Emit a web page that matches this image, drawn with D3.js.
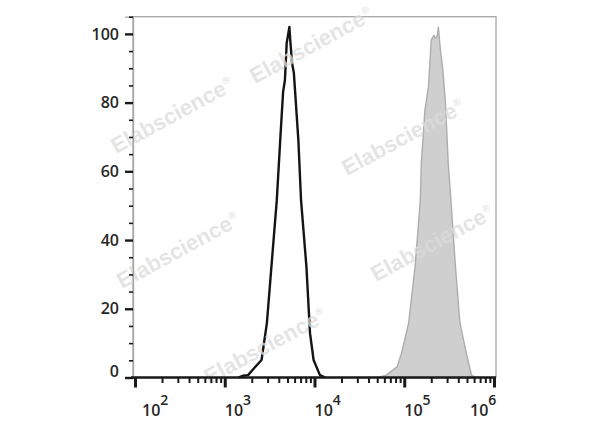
<!DOCTYPE html>
<html>
<head>
<meta charset="utf-8">
<script src="https://cdn.jsdelivr.net/npm/d3@7"></script>
<style>
  html, body { margin: 0; padding: 0; background: #fff; }
  svg { display: block; }
</style>
</head>
<body>
<svg id="chart" width="600" height="427"></svg>
<script>
// ---- data ----
// unstained / isotype control (black outline)
const controlIntensity = [1410, 1585, 1820, 2040, 2570, 2950, 3310, 3800, 4170, 4470, 4680, 4900, 5250, 5370, 5620, 5890, 6610, 7080, 8130, 8910, 9770, 11500, 13200];
const controlCount     = [0,    0.5,  0.7,  2.2,  5.1,  15.9, 32.2, 51.6, 70,   83.2, 86.5, 97.3, 102,  98.2, 91.5, 88.6, 69.1, 51.6, 32.2, 12.9, 5.1,  0.7,   0];
// stained sample (grey filled)
const stainedIntensity = [50100, 63100, 83200, 93300, 112000, 132000, 151000, 155000, 170000, 186000, 200000, 214000, 222000, 232000, 240000, 251000, 269000, 288000, 309000, 331000, 372000, 417000, 501000, 562000, 631000];
const stainedCount     = [0,     0.7,   3.1,   7.1,   15.9,   32.2,   51.6,   62.4,   77.8,   84.6,   98.2,   99.6,   98.7,   99.2,   102,    96.2,   89.5,   79.9,   62.4,   51.6,   32.2,   15.9,   6.1,    0.7,    0];
const yTicks = [0, 20, 40, 60, 80, 100];
const yMinorTicks = [5, 10, 15, 25, 30, 35, 45, 50, 55, 65, 70, 75, 85, 90, 95, 105];
const xDecades = [2, 3, 4, 5, 6];
const watermarkText = "Elabscience";

// ---- layout ----
const svg = d3.select("#chart");
const x = d3.scaleLog().domain([1e2, 1e6]).range([135, 494]);
const y = d3.scaleLinear().domain([0, 105]).range([377.5, 16.7]);
const plotLeft = 133, plotRight = 496, plotTop = y(105), plotBottom = y(0);
const labelFont = "Open Sans, sans-serif";

// frame
svg.append("rect")
  .attr("x", plotLeft).attr("y", plotTop)
  .attr("width", plotRight - plotLeft).attr("height", plotBottom - plotTop)
  .attr("fill", "none").attr("stroke", "#a6a6a6").attr("stroke-width", 1.3);

// curves
const toPts = (xs, ys) => xs.map((v, i) => [v, ys[i]]);
const line = d3.line().x(d => x(d[0])).y(d => y(d[1]));
const area = d3.area().x(d => x(d[0])).y0(y(0)).y1(d => y(d[1]));

svg.append("path")
  .datum(toPts(stainedIntensity, stainedCount))
  .attr("d", area)
  .attr("fill", "#cfcfcf")
  .attr("stroke", "#adadad")
  .attr("stroke-width", 1.4)
  .attr("stroke-linejoin", "round");

svg.append("path")
  .datum(toPts(controlIntensity, controlCount))
  .attr("d", line)
  .attr("fill", "none")
  .attr("stroke", "#141414")
  .attr("stroke-width", 2.4)
  .attr("stroke-linejoin", "round");

// watermarks
const wmCenters = [[311, 45], [172, 115], [403, 137], [178, 250], [432, 243], [265, 346]];
const wm = svg.append("g").attr("class", "watermarks");
wmCenters.forEach(c => {
  const t = wm.append("text")
    .attr("transform", `translate(${c[0]},${c[1]}) rotate(-28.5)`)
    .attr("text-anchor", "middle")
    .attr("dy", "0.35em")
    .attr("font-family", "Liberation Sans, Arial, sans-serif")
    .attr("font-weight", "bold")
    .attr("font-size", 22)
    .attr("fill", "#dcdcdc")
    .attr("fill-opacity", 0.75);
  t.append("tspan").text(watermarkText);
  t.append("tspan").attr("font-size", 10).attr("dy", "-0.9em").attr("dx", 1).text("®");
});

// y axis
const yAxis = svg.append("g").attr("transform", `translate(${plotLeft},0)`)
  .call(d3.axisLeft(y).tickValues(yTicks).tickSize(8).tickPadding(6).tickFormat(d3.format("d")));
yAxis.select(".domain").attr("stroke", "#a6a6a6").attr("stroke-width", 1.3);
yAxis.selectAll(".tick line").attr("stroke", "#1a1a1a").attr("stroke-width", 2.4);
yAxis.selectAll(".tick text")
  .attr("font-family", labelFont)
  .attr("font-weight", 600)
  .attr("font-size", 16)
  .attr("fill", "#262626")
  .attr("y", d => d === 0 ? -6 : 0);

const yMinor = svg.append("g").attr("transform", `translate(${plotLeft},0)`)
  .call(d3.axisLeft(y).tickValues(yMinorTicks).tickSize(4).tickFormat(""));
yMinor.select(".domain").remove();
yMinor.selectAll(".tick line").attr("stroke", "#1a1a1a").attr("stroke-width", 1.6);

// x axis
const majorVals = xDecades.map(e => Math.pow(10, e));
const minorVals = [];
xDecades.slice(0, -1).forEach(e => { for (let m = 2; m <= 9; m++) minorVals.push(m * Math.pow(10, e)); });

const xMinor = svg.append("g").attr("transform", `translate(0,${plotBottom})`)
  .call(d3.axisBottom(x).tickValues(minorVals).tickSize(5.5).tickSizeOuter(0).tickFormat(""));
xMinor.select(".domain").remove();
xMinor.selectAll(".tick line").attr("stroke", "#1a1a1a").attr("stroke-width", 2);

const xAxis = svg.append("g").attr("transform", `translate(0,${plotBottom})`)
  .call(d3.axisBottom(x).tickValues(majorVals).tickSize(10).tickSizeOuter(0).tickFormat(""));
xAxis.select(".domain").remove();
xAxis.selectAll(".tick line").attr("stroke", "#1a1a1a").attr("stroke-width", 3);

svg.append("line")
  .attr("x1", 131).attr("x2", plotRight)
  .attr("y1", plotBottom).attr("y2", plotBottom)
  .attr("stroke", "#1a1a1a").attr("stroke-width", 2.6);

// x tick labels: 10 with superscript exponent
xDecades.forEach((e, i) => {
  const dx = i === 0 ? 7 : (i === xDecades.length - 1 ? -24 : 0);
  const t = svg.append("text")
    .attr("x", x(Math.pow(10, e)) + dx)
    .attr("y", 416)
    .attr("font-family", labelFont)
    .attr("font-weight", 600)
    .attr("font-size", 16)
    .attr("fill", "#262626");
  t.append("tspan").text("10");
  t.append("tspan").attr("font-size", 14).attr("dy", -11).text(String(e));
});
</script>
</body>
</html>
